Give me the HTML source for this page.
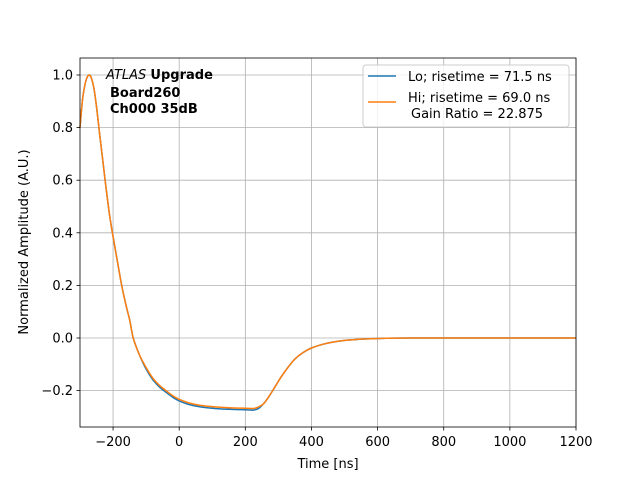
<!DOCTYPE html>
<html><head><meta charset="utf-8"><style>
body{margin:0;background:#fff}
svg text{font-family:"DejaVu Sans","Liberation Sans",sans-serif}
</style></head><body>
<svg id="s" width="640" height="480" xmlns="http://www.w3.org/2000/svg">
<rect width="640" height="480" fill="#fff"/>
<g id="grid" stroke="#b0b0b0" stroke-width="0.8"></g>
<g id="curves" fill="none" stroke-width="1.5"></g>
<rect x="80" y="58" width="496" height="369" fill="none" stroke="#000" stroke-width="0.8"/>
<g id="ticks" stroke="#000" stroke-width="0.8"></g>
<g id="labels" font-size="13" fill="#000"></g>
<text x="328" y="468" font-size="13" text-anchor="middle">Time [ns]</text>
<text transform="translate(28,242) rotate(-90)" font-size="13" text-anchor="middle">Normalized Amplitude (A.U.)</text>
<text x="106" y="79" font-size="13"><tspan font-style="italic">ATLAS</tspan> <tspan font-weight="bold">Upgrade</tspan></text>
<text x="110" y="97" font-size="13" font-weight="bold">Board260</text>
<text x="110" y="113" font-size="13" font-weight="bold">Ch000 35dB</text>
<rect x="363" y="65" width="206" height="62" rx="3" fill="#fff" fill-opacity="0.8" stroke="#ccc"/>
<line x1="368" y1="76" x2="396" y2="76" stroke="#1f77b4" stroke-width="1.5"/>
<text x="408" y="81" font-size="13">Lo; risetime = 71.5 ns</text>
<line x1="368" y1="102" x2="396" y2="102" stroke="#ff7f0e" stroke-width="1.5"/>
<text x="408" y="102" font-size="13">Hi; risetime = 69.0 ns</text>
<text x="411" y="118" font-size="13">Gain Ratio = 22.875</text>
</svg>
<script>
var X=function(t){return 179.2+t*0.33067},Y=function(v){return 338-v*263};
var ns="http://www.w3.org/2000/svg";
function el(p,tag,a){var e=document.createElementNS(ns,tag);for(var k in a)e.setAttribute(k,a[k]);document.getElementById(p).appendChild(e);return e}
[-200,0,200,400,600,800,1000,1200].forEach(function(t){var x=X(t);
el("grid","line",{x1:x,x2:x,y1:58,y2:427});el("ticks","line",{x1:x,x2:x,y1:427,y2:430.5});
var tx=el("labels","text",{x:x,y:446,"text-anchor":"middle"});tx.textContent=(t<0?"\u2212"+(-t):t);});
[-0.2,0,0.2,0.4,0.6,0.8,1.0].forEach(function(v){var y=Y(v);
el("grid","line",{x1:80,x2:576,y1:y,y2:y});el("ticks","line",{x1:76.5,x2:80,y1:y,y2:y});
var tx=el("labels","text",{x:73,y:y+4.5,"text-anchor":"end"});tx.textContent=(v<0?"\u2212":"")+Math.abs(v).toFixed(1);});
var P=[[-300,0.80],[-292,0.91],[-284,0.97],[-277,0.995],[-272,1.0],[-266,0.99],[-258,0.95],[-250,0.88],[-240,0.77],[-230,0.665],[-224,0.6],[-212,0.48],[-202,0.4],[-188,0.3],[-174,0.2],[-160,0.12],[-150,0.07],[-139,0.0],[-120,-0.065],[-100,-0.115],[-80,-0.155],[-60,-0.183],[-38,-0.205],[-20,-0.222],[0,-0.236],[30,-0.25],[60,-0.258],[100,-0.264],[150,-0.268],[200,-0.27],[225,-0.271],[240,-0.265],[255,-0.25],[270,-0.225],[290,-0.185],[310,-0.145],[330,-0.11],[350,-0.08],[375,-0.055],[400,-0.038],[440,-0.022],[480,-0.012],[530,-0.006],[600,-0.002],[700,0],[1200,0]];
function path(off){var Q=P.map(function(p){var v=p[1];if(v<0&&p[0]<245&&p[0]>-120)v+=off;return [X(p[0]),Y(v)]});
var d="M"+Q[0][0].toFixed(1)+","+Q[0][1].toFixed(1);
for(var i=0;i<Q.length-1;i++){var a=Q[i-1]||Q[i],b=Q[i],c=Q[i+1],e=Q[i+2]||c;
d+="C"+(b[0]+(c[0]-a[0])/6).toFixed(1)+","+(b[1]+(c[1]-a[1])/6).toFixed(1)+" "+(c[0]-(e[0]-b[0])/6).toFixed(1)+","+(c[1]-(e[1]-b[1])/6).toFixed(1)+" "+c[0].toFixed(1)+","+c[1].toFixed(1);}
return d}
el("curves","path",{d:path(-0.003),stroke:"#1f77b4"});
el("curves","path",{d:path(0.003),stroke:"#ff7f0e"});
</script>
</body></html>
